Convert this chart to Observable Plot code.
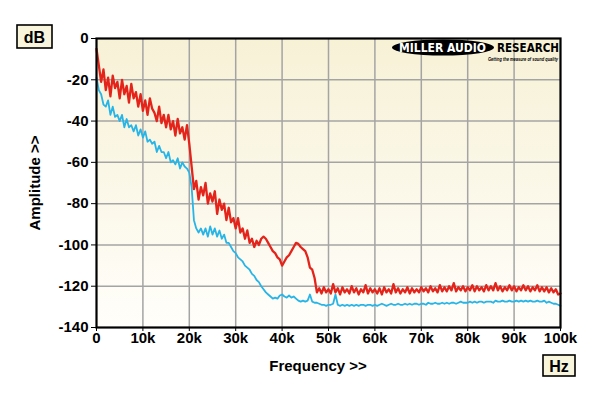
<!DOCTYPE html>
<html><head><meta charset="utf-8">
<script src="https://cdn.jsdelivr.net/npm/d3@7"></script>
<script src="https://cdn.jsdelivr.net/npm/@observablehq/plot@0.6"></script>
<style>
body{margin:0;background:#fff;font-family:"Liberation Sans",Arial,sans-serif}
#chart svg{display:block}
</style>
</head><body><div id="chart"></div>
<script>
// Frequency sampling of the traces (kHz step)
const freqStepK = 0.5;

// Red trace, dB, at 0, 0.5, 1 ... 100 kHz
const redDb = [
  -5, -13, -21, -15, -25, -19, -28, -18, -24, -21,
  -29, -20, -27, -23, -31, -22, -29, -26, -33, -27,
  -35, -30, -37, -29, -34, -36, -40, -33, -41, -37,
  -43, -37, -44, -40, -47, -39, -46, -43, -49, -42,
  -51, -62, -73, -69, -78, -72, -76, -70, -80, -75,
  -79, -74, -85, -78, -83, -80, -88, -82, -89, -87,
  -92, -87, -94, -92, -97, -93, -99, -97, -101, -98,
  -100, -97, -96, -97, -99, -101, -103, -104, -106, -107,
  -110, -108, -106, -105, -103, -101, -99, -99.5, -101, -102,
  -103, -106, -111, -112, -116, -123, -121, -123.5, -120.5, -123,
  -121.5, -123.5, -119, -123, -121, -124, -120.5, -123, -121.5, -123.5,
  -120, -123, -121, -124, -121.5, -123, -119.5, -123.5, -121, -123,
  -121.5, -123.5, -121, -124, -120.5, -123, -121.5, -123.5, -119, -123,
  -121, -123.5, -121.5, -123, -120.5, -123.5, -121, -123, -121.5, -123,
  -120.5, -122.5, -121, -123, -120, -122.5, -121, -123, -119.5, -122.5,
  -120.5, -122.5, -120, -122, -118.5, -122.5, -120.5, -122, -120, -122.5,
  -120.5, -122, -119.5, -122.5, -120, -122, -120.5, -122.5, -119.5, -122,
  -120, -122, -118.5, -122, -120, -122.5, -120.5, -122, -119.5, -122,
  -120, -122.5, -120.5, -122, -119.5, -122, -120, -122.5, -120.5, -122,
  -119.5, -122.5, -120.5, -122.5, -120.5, -123, -121, -123, -121.5, -124,
  -123.5
];

// Blue trace, dB, at 0, 0.5, 1 ... 100 kHz
const blueDb = [
  -19, -25, -27, -32, -33, -30, -37, -33, -38, -37,
  -40, -37, -43, -39, -43, -42, -45, -42, -47, -44,
  -48, -45, -50, -49, -51, -50, -55, -52, -55, -55,
  -58, -55, -60, -59, -61, -58, -63, -60, -62, -63,
  -65, -72, -88, -92, -94, -92, -95, -92, -96, -91,
  -95, -92, -96, -93, -97, -95, -99, -99, -101, -103,
  -104, -106, -107, -108, -110, -111, -112, -114, -115, -117,
  -118, -120, -121.5, -123, -124, -125, -126, -125.5, -126, -124.5,
  -124, -125, -125.5, -124.5, -125.5, -125, -126, -127, -127.5, -127,
  -127.5, -127, -124, -127.5, -128, -128, -128.5, -129, -129, -129.5,
  -129, -129, -128.5, -124, -129, -129.5, -129, -129.5, -129, -129.5,
  -129, -129.5, -129, -129.5, -129, -129, -129.5, -129, -129, -129.5,
  -129, -129.5, -129, -128.5, -129, -129.5, -129, -128.5, -129, -129,
  -128.5, -129, -129, -128.5, -129, -128.5, -129, -128.5, -128.5, -129,
  -128.5, -128.5, -129, -128, -128.5, -128.5, -128, -128.5, -128.5, -128,
  -128.5, -128, -128.5, -128, -128, -128.5, -128, -127.5, -128, -128,
  -128, -127.5, -128, -127.5, -128, -127.5, -127.5, -128, -127.5, -127.5,
  -127.5, -128, -127, -127.5, -127.5, -127, -127.5, -127.5, -127, -127.5,
  -127.5, -127, -127.5, -127, -127.5, -127, -127.5, -127, -127.5, -127.5,
  -127, -127.5, -127.5, -127, -128, -127.5, -128, -128.5, -128.5, -129,
  -129.5
];

const xTicks = [0, 10, 20, 30, 40, 50, 60, 70, 80, 90, 100];
const xTickLabels = ["0", "10k", "20k", "30k", "40k", "50k", "60k", "70k", "80k", "90k", "100k"];
const yTicks = [0, -20, -40, -60, -80, -100, -120, -140];
const yTickLabels = ["0", "-20", "-40", "-60", "-80", "-100", "-120", "-140"];
const xTitle = "Frequency >>";
const yTitle = "Amplitude >>";
const yUnit = "dB";
const xUnit = "Hz";

const red = redDb.map((v, i) => ({f: i * freqStepK, db: v}));
const blue = blueDb.map((v, i) => ({f: i * freqStepK, db: v}));

const gridX = xTicks.filter(d => d > 0 && d < 100);
const gridY = yTicks.filter(d => d < 0 && d > -140);

const plot = Plot.plot({
  width: 600, height: 396,
  marginLeft: 96, marginRight: 40, marginTop: 38, marginBottom: 69,
  style: {fontFamily: "'Liberation Sans', Arial, sans-serif", fontSize: "15px", fontWeight: "bold", color: "#000", background: "transparent", overflow: "visible"},
  x: {domain: [0, 100], label: null},
  y: {domain: [-140, 0], label: null},
  marks: [
    Plot.frame({fill: "url(#bgGrad)", stroke: "none"}),
    Plot.ruleX(gridX, {stroke: "#a4a4a4", strokeWidth: 1.5}),
    Plot.ruleY(gridY, {stroke: "#a4a4a4", strokeWidth: 1.5}),
    Plot.line(blue, {x: "f", y: "db", stroke: "#27b5e8", strokeWidth: 1.8}),
    Plot.line(red, {x: "f", y: "db", stroke: "#e4241a", strokeWidth: 2.3}),
    Plot.frame({stroke: "#000", strokeWidth: 2.2}),
    Plot.axisX({ticks: xTicks, tickFormat: d => xTickLabels[xTicks.indexOf(d)], tickSize: 4, tickPadding: 1, label: null, stroke: "#000"}),
    Plot.axisY({ticks: yTicks, tickFormat: d => yTickLabels[yTicks.indexOf(d)], tickSize: 5, tickPadding: 3, label: null, stroke: "#000"})
  ]
});

const svg = d3.select(plot);
const defs = svg.insert("defs", ":first-child");
const g = defs.append("linearGradient").attr("id", "bgGrad").attr("x1", 0).attr("y1", 0).attr("x2", 0).attr("y2", 1);
g.append("stop").attr("offset", "0%").attr("stop-color", "#f7f1d6");
g.append("stop").attr("offset", "100%").attr("stop-color", "#fffefa");

const font = "'Liberation Sans', Arial, sans-serif";
// Axis titles
svg.append("text").attr("transform", "translate(40,183) rotate(-90)")
  .attr("text-anchor", "middle").attr("font-family", font).attr("font-weight", "bold").attr("font-size", 15).attr("fill", "#000").text(yTitle);
svg.append("text").attr("x", 318).attr("y", 371)
  .attr("text-anchor", "middle").attr("font-family", font).attr("font-weight", "bold").attr("font-size", 15).attr("fill", "#000").text(xTitle);

// Unit boxes
function unitBox(x, y, w, h, t) {
  svg.append("rect").attr("x", x).attr("y", y).attr("width", w).attr("height", h)
    .attr("fill", "#f9f4dc").attr("stroke", "#000").attr("stroke-width", 1.6);
  svg.append("text").attr("x", x + w / 2).attr("y", y + h / 2 + 6).attr("text-anchor", "middle")
    .attr("font-family", font).attr("font-weight", "bold").attr("font-size", 16).attr("fill", "#000").text(t);
}
unitBox(17, 25, 35, 23, yUnit);
unitBox(543, 355, 32, 21, xUnit);

// Logo
const logo = svg.append("g").attr("text-anchor", "start");
logo.append("ellipse").attr("cx", 443).attr("cy", 47.5).attr("rx", 51).attr("ry", 8).attr("fill", "#000");
logo.append("text").attr("x", 399).attr("y", 52).attr("text-anchor", "start").attr("textLength", 87).attr("lengthAdjust", "spacingAndGlyphs")
  .attr("font-family", "'DejaVu Sans', sans-serif").attr("font-weight", "bold").attr("font-size", 12).attr("fill", "#fff").text("MILLER AUDIO");
logo.append("text").attr("x", 497).attr("y", 52).attr("text-anchor", "start").attr("textLength", 62).attr("lengthAdjust", "spacingAndGlyphs")
  .attr("font-family", "'DejaVu Sans', sans-serif").attr("font-weight", "bold").attr("font-size", 12).attr("fill", "#000").text("RESEARCH");
logo.append("text").attr("x", 488).attr("y", 61).attr("text-anchor", "start").attr("textLength", 70).attr("lengthAdjust", "spacingAndGlyphs")
  .attr("font-family", font).attr("font-weight", "bold").attr("font-style", "italic").attr("font-size", 6).attr("fill", "#000").text("Getting the measure of sound quality");

document.getElementById("chart").append(plot);
</script>
</body></html>
